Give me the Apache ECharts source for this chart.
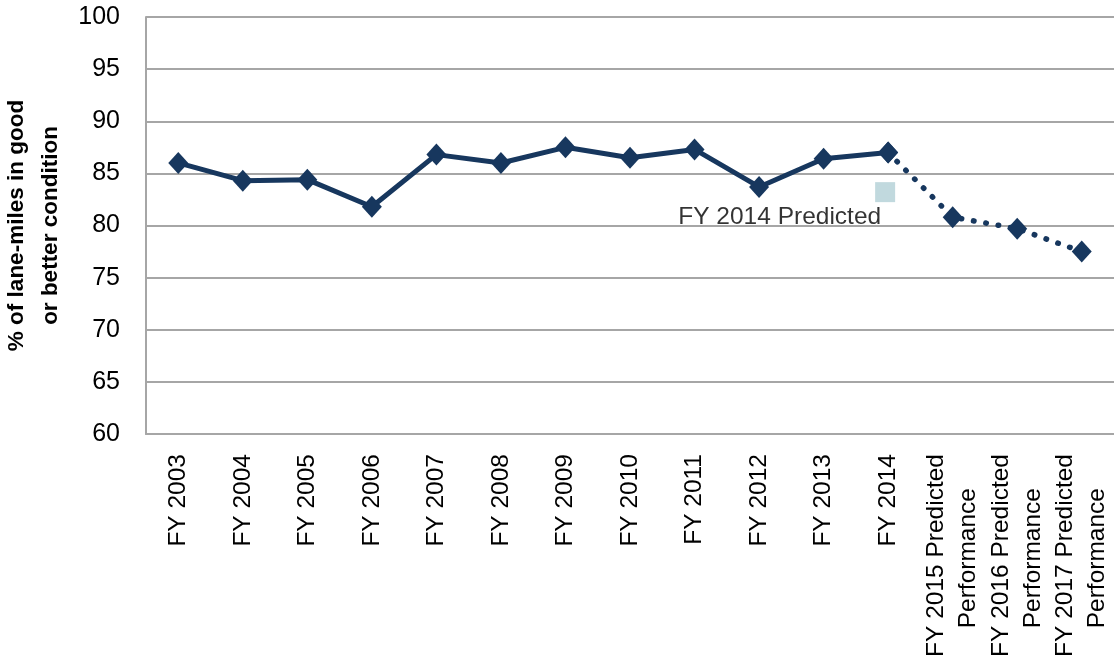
<!DOCTYPE html>
<html>
<head>
<meta charset="utf-8">
<script src="https://cdn.jsdelivr.net/npm/echarts@6/dist/echarts.min.js"></script>
<style>
  html, body { margin: 0; padding: 0; background: #fff; }
  #chart { width: 1114px; height: 666px; }
</style>
</head>
<body>
<div id="chart"></div>
<script>
var categories = ['FY 2003', 'FY 2004', 'FY 2005', 'FY 2006', 'FY 2007', 'FY 2008', 'FY 2009', 'FY 2010',
    'FY 2011', 'FY 2012', 'FY 2013', 'FY 2014',
    'FY 2015 Predicted\nPerformance', 'FY 2016 Predicted\nPerformance', 'FY 2017 Predicted\nPerformance'];
var actual = [86.0, 84.3, 84.4, 81.8, 86.8, 86.0, 87.5, 86.5, 87.3, 83.7, 86.4, 87.0];
var predicted = [80.8, 79.7, 77.5];
var fy2014Predicted = 83.2;
var yTicks = { min: 60, max: 100, step: 5 };

var navy = '#17375e';
var grey = '#a6a6a6';
var font = '"Liberation Sans", Arial, sans-serif';

// dotted series starts at the last actual point so the line joins up
var predictedData = [];
for (var i = 0; i < actual.length - 1; i++) predictedData.push(null);
predictedData.push(actual[actual.length - 1]);
predictedData = predictedData.concat(predicted);

var chart = echarts.init(document.getElementById('chart'));
var option = {
    animation: false,
    grid: { left: 146, right: 0, top: 17, bottom: 232, containLabel: false, outerBoundsMode: 'none' },
    xAxis: {
        type: 'category',
        data: categories,
        boundaryGap: true,
        axisLine: { lineStyle: { color: grey, width: 2 } },
        axisTick: { show: false },
        axisLabel: {
            interval: 0,
            rotate: 90,
            margin: 20,
            color: '#000',
            fontFamily: font,
            fontSize: 24.5,
            lineHeight: 32,
            formatter: function (v) {
                var parts = v.split('\n');
                if (parts.length < 2) return v;
                // second line is centred under the first: pad its end with an empty box
                return '{a|' + parts[0] + '}\n{a|' + parts[1] + '}{gap|}';
            },
            rich: {
                a: { fontFamily: font, fontSize: 24.5, lineHeight: 32, color: '#000' },
                gap: { width: 34, lineHeight: 32 }
            }
        }
    },
    yAxis: {
        type: 'value',
        min: yTicks.min,
        max: yTicks.max,
        interval: yTicks.step,
        name: '% of lane-miles in good\nor better condition',
        nameLocation: 'middle',
        nameGap: 72,
        nameTextStyle: { color: '#000', fontFamily: font, fontSize: 22.5, fontWeight: 'bold', lineHeight: 34 },
        axisLine: { show: true, lineStyle: { color: grey, width: 2 } },
        axisTick: { show: false },
        axisLabel: { color: '#000', fontFamily: font, fontSize: 25, margin: 26 },
        splitLine: { lineStyle: { color: grey, width: 2 } }
    },
    series: [
        {
            name: 'Predicted',
            type: 'line',
            data: predictedData,
            symbol: 'diamond',
            symbolSize: [20, 22],
            itemStyle: { color: navy },
            lineStyle: { color: navy, width: 5.5, type: [0.5, 12], cap: 'round' },
            z: 2
        },
        {
            name: 'Actual',
            type: 'line',
            data: actual,
            symbol: 'diamond',
            symbolSize: [20, 22],
            itemStyle: { color: navy },
            lineStyle: { color: navy, width: 5 },
            z: 3
        },
        {
            name: 'FY 2014 Predicted',
            type: 'scatter',
            data: [['FY 2014', fy2014Predicted]],
            symbol: 'rect',
            symbolSize: 20,
            symbolOffset: [-3, 0],
            itemStyle: { color: '#b2cfd6' },
            label: {
                show: true,
                position: 'left',
                distance: 0,
                offset: [6, 25],
                formatter: 'FY 2014 Predicted',
                color: '#000',
                fontFamily: font,
                fontSize: 24.5
            },
            z: 4
        }
    ]
};
chart.setOption(option);
</script>
</body>
</html>
